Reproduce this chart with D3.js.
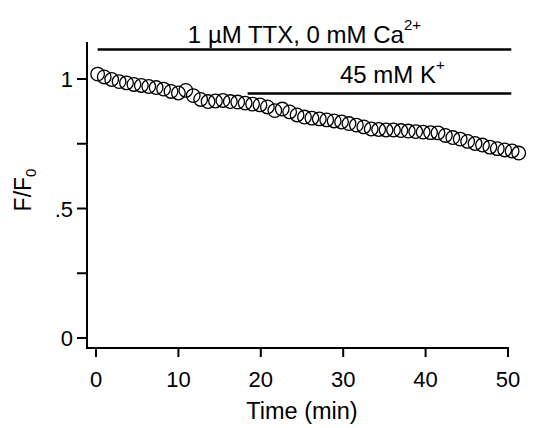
<!DOCTYPE html>
<html>
<head>
<meta charset="utf-8">
<script src="https://cdn.jsdelivr.net/npm/d3@7"></script>
<style>
  body { margin: 0; background: #fff; }
  text { font-family: "Liberation Sans", Arial, sans-serif; fill: #000; }
</style>
</head>
<body>
<div id="chart"></div>
<script>
// sample times (min) and normalised fluorescence F/F0
var times = [0.2, 1.0, 1.9, 2.8, 3.7, 4.6, 5.5, 6.4, 7.3, 8.2,
             9.1, 10.0, 10.9, 11.8, 12.7, 13.6, 14.5, 15.4, 16.3, 17.2,
             18.1, 19.0, 19.9, 20.8, 21.7, 22.6, 23.5, 24.4, 25.3, 26.2,
             27.1, 28.0, 28.9, 29.8, 30.7, 31.6, 32.5, 33.4, 34.3, 35.2,
             36.1, 37.0, 37.9, 38.8, 39.7, 40.6, 41.5, 42.4, 43.3, 44.2,
             45.1, 46.0, 46.9, 47.8, 48.7, 49.6, 50.5, 51.3];
var ratio = [1.019, 1.008, 0.998, 0.990, 0.985, 0.979, 0.975, 0.971, 0.967, 0.961,
             0.952, 0.946, 0.956, 0.936, 0.921, 0.913, 0.915, 0.917, 0.913, 0.911,
             0.907, 0.903, 0.900, 0.892, 0.878, 0.884, 0.873, 0.861, 0.853, 0.849,
             0.846, 0.842, 0.838, 0.834, 0.828, 0.822, 0.815, 0.807, 0.805, 0.803,
             0.803, 0.801, 0.799, 0.797, 0.795, 0.793, 0.792, 0.782, 0.774, 0.768,
             0.759, 0.751, 0.745, 0.737, 0.731, 0.726, 0.722, 0.714];

var xTicks = [0, 10, 20, 30, 40, 50];
var yTicks = [0, 0.25, 0.5, 0.75, 1];
var yTickLabels = {0: "0", 0.5: ".5", 1: "1"};

// application bars: start/end (min), row value, label, superscript
var barStart = [0.2, 18.4];
var barEnd = [50.4, 50.4];
var barLevel = [1.114, 0.944];
var barText = ["1 \u00b5M TTX, 0 mM Ca", "45 mM K"];
var barSup = ["2+", "+"];

var width = 534, height = 428;
var svg = d3.select("#chart").append("svg")
    .attr("width", width)
    .attr("height", height);

var x = d3.scaleLinear().domain([0, 50]).range([96, 508]);
var y = d3.scaleLinear().domain([0, 1]).range([338, 79]);

// spines
svg.append("line")
    .attr("x1", 87).attr("x2", 87)
    .attr("y1", y(1.143)).attr("y2", 349)
    .attr("stroke", "#000").attr("stroke-width", 2);
svg.append("line")
    .attr("x1", 86).attr("x2", x(50) + 1)
    .attr("y1", 348).attr("y2", 348)
    .attr("stroke", "#000").attr("stroke-width", 2);

// y ticks
svg.append("g").selectAll("line")
    .data(yTicks).enter().append("line")
    .attr("x1", 77).attr("x2", 87)
    .attr("y1", d => y(d)).attr("y2", d => y(d))
    .attr("stroke", "#000").attr("stroke-width", 2);
svg.append("g").selectAll("text")
    .data(yTicks.filter(d => yTickLabels[d] !== undefined)).enter().append("text")
    .attr("x", 73).attr("y", d => y(d) + 8)
    .attr("text-anchor", "end")
    .attr("font-size", 22)
    .text(d => yTickLabels[d]);

// x ticks
svg.append("g").selectAll("line")
    .data(xTicks).enter().append("line")
    .attr("x1", d => x(d)).attr("x2", d => x(d))
    .attr("y1", 348).attr("y2", 357)
    .attr("stroke", "#000").attr("stroke-width", 2);
svg.append("g").selectAll("text")
    .data(xTicks).enter().append("text")
    .attr("x", d => x(d)).attr("y", 387)
    .attr("text-anchor", "middle")
    .attr("font-size", 22)
    .text(d => d);

// axis titles
svg.append("text")
    .attr("x", x(25)).attr("y", 419)
    .attr("text-anchor", "middle")
    .attr("font-size", 23.5)
    .text("Time (min)");

var yl = svg.append("text")
    .attr("transform", "translate(31,190) rotate(-90)")
    .attr("text-anchor", "middle")
    .attr("font-size", 23);
yl.append("tspan").text("F/F");
yl.append("tspan").attr("font-size", 15).attr("dy", 5).text("0");

// application bars
barStart.forEach(function(s, i) {
  svg.append("line")
      .attr("x1", x(s)).attr("x2", x(barEnd[i]))
      .attr("y1", y(barLevel[i])).attr("y2", y(barLevel[i]))
      .attr("stroke", "#000").attr("stroke-width", 2.5);
});
var t1 = svg.append("text")
    .attr("x", (x(barStart[0]) + x(barEnd[0])) / 2).attr("y", 43)
    .attr("text-anchor", "middle")
    .attr("font-size", 24);
t1.append("tspan").text(barText[0]);
t1.append("tspan").attr("font-size", 15).attr("dy", -13).text(barSup[0]);

var t2 = svg.append("text")
    .attr("x", 340).attr("y", 83)
    .attr("font-size", 24);
t2.append("tspan").text(barText[1]);
t2.append("tspan").attr("font-size", 15).attr("dy", -13).text(barSup[1]);

// points
svg.append("g").selectAll("circle")
    .data(times).enter().append("circle")
    .attr("cx", d => x(d))
    .attr("cy", (d, i) => y(ratio[i]))
    .attr("r", 6.8)
    .attr("fill", "none")
    .attr("stroke", "#000")
    .attr("stroke-width", 1.3);
</script>
</body>
</html>
